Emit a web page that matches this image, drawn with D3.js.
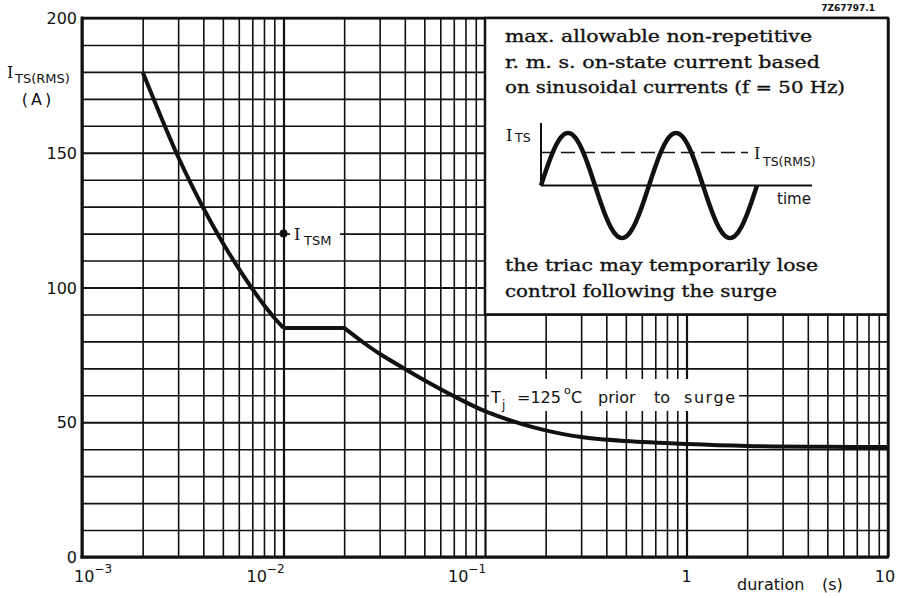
<!DOCTYPE html>
<html><head><meta charset="utf-8">
<script src="https://cdn.jsdelivr.net/npm/d3@7"></script>
<style>
html,body{margin:0;padding:0;background:#fff;}
svg{display:block;}
.sans{font-family:"DejaVu Sans",sans-serif;fill:#111;}
.serif{font-family:"DejaVu Serif",serif;fill:#111;}
.boxtxt{font-family:"DejaVu Serif",serif;fill:#111;stroke:#111;stroke-width:0.35;}
</style></head>
<body>
<svg id="chart" width="901" height="598"></svg>
<script>
// ---- data ----
const durations = [0.002,0.003,0.004,0.005,0.006,0.007,0.008,0.009,0.01,
                   0.02,0.025,0.03,0.04,0.05,0.07,0.1,0.15,0.2,0.3,0.5,1,2,5,10];
const currents  = [180,148.5,129.5,116.5,107,99.5,93.5,88.8,85,
                   85,79.5,75.4,69.8,65.6,59.7,54.1,49.5,47,44.5,43,41.9,41.2,40.9,40.8];
const kinkIndices = [8, 9];
const itsmPoint = [0.01, 120];
const yTickValues = [0,50,100,150,200];
const xTickValues = [0.001,0.01,0.1,1,10];
const xTickBases = ["10","10","10","1","10"];
const xTickExps = ["\u22123","\u22122","\u22121","",""];
const boxLines = ["max. allowable non-repetitive","r. m. s.  on-state current based","on sinusoidal currents (f = 50 Hz)"];
const boxLines2 = ["the triac may temporarily lose","control following the surge"];

const svg = d3.select("#chart");
svg.append("rect").attr("width",901).attr("height",598).attr("fill","#fff");

const x = d3.scaleLog().domain([1e-3,10]).range([82,888]);
const y = d3.scaleLinear().domain([0,200]).range([557,18]);
const W = 888-82, H = 557-18;

const xGrid = [];
for (let e=-3;e<1;e++) for (let m=1;m<10;m++) xGrid.push(m*Math.pow(10,e));
xGrid.push(10);

const gx = svg.append("g").attr("transform",`translate(0,557)`)
  .call(d3.axisBottom(x).tickValues(xGrid).tickSize(-H).tickFormat(""));
gx.select(".domain").remove();
gx.selectAll(".tick line").attr("stroke","#111")
  .attr("stroke-width",d=>Math.abs(Math.log10(d)-Math.round(Math.log10(d)))<1e-9?2.2:1.6);

const gy = svg.append("g").attr("transform",`translate(82,0)`)
  .call(d3.axisLeft(y).tickValues(d3.range(0,201,10)).tickSize(-W).tickFormat(""));
gy.select(".domain").remove();
gy.selectAll(".tick line").attr("stroke","#111").attr("stroke-width",d=>d%50===0?2.2:1.6);

// y tick labels
svg.append("g").selectAll("text").data(yTickValues).join("text")
  .attr("class","sans").attr("x",77).attr("y",d=>y(d)+6)
  .attr("text-anchor","end").attr("font-size",16).text(d=>d);

// x tick labels
const xl = svg.append("g");
xTickValues.forEach((v,i)=>{
  const t = xl.append("text").attr("class","sans").attr("font-size",16).attr("y",582);
  if (xTickExps[i]) {
    const startX = i===0 ? x(v)-8 : x(v)-37;
    t.attr("x",startX);
    t.append("tspan").text(xTickBases[i]);
    t.append("tspan").attr("font-size",12).attr("dy",-9).text(xTickExps[i]);
  } else {
    t.attr("x",x(v)-(i===4?3:0)).attr("text-anchor","middle").text(xTickBases[i]);
  }
});

// axis title x
const xt = svg.append("text").attr("class","sans").attr("font-size",16).attr("y",590);
xt.append("tspan").attr("x",737).text("duration");
xt.append("tspan").attr("x",822).text("(s)");

// y title
const yt = svg.append("g");
yt.append("text").attr("class","serif").attr("x",7).attr("y",78).attr("font-size",16).text("I");
yt.append("text").attr("class","sans").attr("x",15).attr("y",83).attr("font-size",13).text("TS(RMS)");
yt.append("text").attr("class","sans").attr("x",38).attr("y",105).attr("font-size",16)
  .attr("text-anchor","middle").attr("letter-spacing",3).text("(A)");

// frame
svg.append("line").attr("x1",82).attr("x2",888).attr("y1",18).attr("y2",18).attr("stroke","#111").attr("stroke-width",2.5);
svg.append("line").attr("x1",888).attr("x2",888).attr("y1",18).attr("y2",557).attr("stroke","#111").attr("stroke-width",2.5);
svg.append("line").attr("x1",82).attr("x2",82).attr("y1",16.5).attr("y2",558.5).attr("stroke","#111").attr("stroke-width",3);
svg.append("line").attr("x1",80.5).attr("x2",889).attr("y1",557).attr("y2",557).attr("stroke","#111").attr("stroke-width",3);

// curve
const pts = durations.map((d,i)=>[d,currents[i]]);
const lineSmooth = d3.line().x(d=>x(d[0])).y(d=>y(d[1])).curve(d3.curveCatmullRom.alpha(0.5));
const lineLin = d3.line().x(d=>x(d[0])).y(d=>y(d[1]));
const segs = [pts.slice(0,kinkIndices[0]+1), pts.slice(kinkIndices[0],kinkIndices[1]+1), pts.slice(kinkIndices[1])];
segs.forEach((s,i)=>{
  svg.append("path").attr("d",(i===1?lineLin:lineSmooth)(s)).attr("fill","none")
    .attr("stroke","#111").attr("stroke-width",4).attr("stroke-linejoin","round");
});

// I_TSM point + label
svg.append("rect").attr("x",290).attr("y",224).attr("width",50).attr("height",24).attr("fill","#fff");
svg.append("circle").attr("cx",x(itsmPoint[0])).attr("cy",y(itsmPoint[1])).attr("r",4).attr("fill","#111");
svg.append("text").attr("class","serif").attr("x",294).attr("y",240).attr("font-size",16).text("I");
svg.append("text").attr("class","sans").attr("x",304).attr("y",245).attr("font-size",13).text("TSM");

// Tj label
svg.append("rect").attr("x",489).attr("y",379).attr("width",250).attr("height",32).attr("fill","#fff");
const tj = svg.append("g");
tj.append("text").attr("class","sans").attr("x",491).attr("y",403).attr("font-size",16).text("T");
tj.append("text").attr("class","sans").attr("x",502).attr("y",409).attr("font-size",12).text("j");
tj.append("text").attr("class","sans").attr("x",517).attr("y",403).attr("font-size",16).text("=125");
tj.append("text").attr("class","sans").attr("x",564).attr("y",394).attr("font-size",11).text("o");
tj.append("text").attr("class","sans").attr("x",571).attr("y",403).attr("font-size",16).text("C");
tj.append("text").attr("class","sans").attr("x",598).attr("y",403).attr("font-size",16).text("prior");
tj.append("text").attr("class","sans").attr("x",654).attr("y",403).attr("font-size",16).text("to");
tj.append("text").attr("class","sans").attr("x",684).attr("y",403).attr("font-size",16)
  .attr("textLength",51).attr("lengthAdjust","spacing").text("surge");

// info box
const bx0 = x(0.1), by1 = y(90);
svg.append("rect").attr("x",bx0).attr("y",18).attr("width",888-bx0).attr("height",by1-18)
  .attr("fill","#fff").attr("stroke","#111").attr("stroke-width",2.5);
const l1w = [307,315,340], l1y=[42,68,93];
boxLines.forEach((t,i)=>{
  svg.append("text").attr("class","boxtxt").attr("x",505).attr("y",l1y[i]).attr("font-size",17.5)
    .attr("textLength",l1w[i]).attr("lengthAdjust","spacingAndGlyphs").text(t);
});
const l2w=[313,272], l2y=[271,297];
boxLines2.forEach((t,i)=>{
  svg.append("text").attr("class","boxtxt").attr("x",505).attr("y",l2y[i]).attr("font-size",17.5)
    .attr("textLength",l2w[i]).attr("lengthAdjust","spacingAndGlyphs").text(t);
});

// sine inset (schematic)
const ix = d3.scaleLinear().domain([0,2]).range([541,757]);
const iy = d3.scaleLinear().domain([-1,1]).range([238,133]);
svg.append("line").attr("x1",541).attr("x2",541).attr("y1",123).attr("y2",iy(0)).attr("stroke","#111").attr("stroke-width",2);
svg.append("line").attr("x1",541).attr("x2",812).attr("y1",iy(0)).attr("y2",iy(0)).attr("stroke","#111").attr("stroke-width",2);
svg.append("line").attr("x1",541).attr("x2",748).attr("y1",iy(0.63)).attr("y2",iy(0.63))
  .attr("stroke","#111").attr("stroke-width",1.5).attr("stroke-dasharray","14,6");
const sinePts = d3.range(0,2.0001,0.01).map(t=>[t,Math.sin(2*Math.PI*t)]);
svg.append("path").attr("d",d3.line().x(d=>ix(d[0])).y(d=>iy(d[1]))(sinePts))
  .attr("fill","none").attr("stroke","#111").attr("stroke-width",4.5);
svg.append("text").attr("class","serif").attr("x",506).attr("y",141).attr("font-size",16).text("I");
svg.append("text").attr("class","sans").attr("x",515).attr("y",142).attr("font-size",12.5).text("TS");
svg.append("text").attr("class","serif").attr("x",754).attr("y",159).attr("font-size",16).text("I");
svg.append("text").attr("class","sans").attr("x",763).attr("y",166).attr("font-size",12.5).text("TS(RMS)");
svg.append("text").attr("class","sans").attr("x",777).attr("y",204).attr("font-size",15).text("time");

// figure code
svg.append("text").attr("class","sans").attr("x",875).attr("y",11).attr("font-size",9)
  .attr("font-weight","bold").attr("text-anchor","end").text("7Z67797.1");
</script>
</body></html>
